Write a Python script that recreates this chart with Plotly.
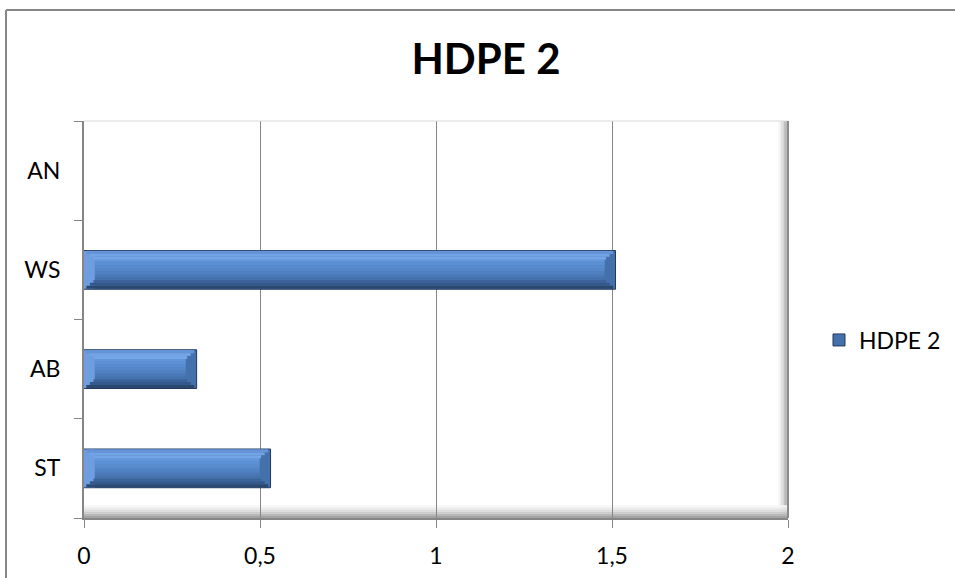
import plotly.graph_objects as go

# Data
categories = ["ST", "AB", "WS", "AN"]
values = [0.53, 0.32, 1.51, 0]
series_name = "HDPE 2"
x_ticks = [0, 0.5, 1, 1.5, 2]
x_tick_labels = ["0", "0,5", "1", "1,5", "2"]

W, H = 955, 578
FONT = "Lato"
GRID = "#868686"

fig = go.Figure()

bar_w = 0.39          # bar thickness in category units
bevel_x = 0.031       # horizontal depth of the bevel (x units)
bevel_y = 0.09        # vertical depth of the bevel (category units)
line_w = [1 if v else 0 for v in values]

# full bar in the right-end bevel colour (also provides the legend swatch)
fig.add_trace(go.Bar(
    y=categories, x=values, orientation="h", name=series_name, width=bar_w,
    marker=dict(color="#4471ac", line=dict(color="#22395a", width=line_w)),
    hoverinfo="x+y",
))

# left-end bevel, lighter
fig.add_trace(go.Bar(
    y=categories, x=[min(bevel_x, v) for v in values], orientation="h", width=bar_w - 0.01,
    marker=dict(color="#6e9edf", line=dict(width=0)),
    showlegend=False, hoverinfo="skip",
))

# horizontal bands (bottom to top): bevel faces near the edges, front face in between
band_cols = ["#2b4870", "#34588a", "#3b639a", "#4571ad", "#4b79b8", "#5081c2", "#5587c9",
             "#598ccf", "#5d91d5", "#6296da", "#74a5e6", "#72a3e4", "#6594d6"]
n = len(band_cols)
bh = (bar_w - 0.01) / n
for i, c in enumerate(band_cols):
    off = -(bar_w - 0.01) / 2 + i * bh
    centre = off + bh / 2
    edge_dist = min(centre + bar_w / 2, bar_w / 2 - centre)
    inset = bevel_x * min(edge_dist / bevel_y, 1.0)
    starts = [min(inset, v / 2) for v in values]
    lengths = [max(v - 2 * inset, 0) for v in values]
    fig.add_trace(go.Bar(
        y=categories, x=lengths, base=starts, orientation="h", width=bh * 1.05, offset=off,
        marker=dict(color=c, line=dict(width=0)),
        showlegend=False, hoverinfo="skip",
    ))

shapes = []
# right side wall: grey gradient strip
wall_cols = ["#f7f7f7", "#eeeeee", "#e2e2e2", "#d3d3d3", "#c2c2c2", "#b0b0b0", "#9c9c9c"]
n = len(wall_cols)
for i, c in enumerate(wall_cols):
    shapes.append(dict(type="rect", xref="x", yref="y domain",
                       x0=1.972 + i * 0.028 / n, x1=1.972 + (i + 1) * 0.028 / n,
                       y0=0, y1=1, fillcolor=c, line=dict(width=0), layer="below"))
# floor: grey gradient strip along the bottom
floor_cols = ["#f7f7f7", "#ececec", "#dedede", "#cccccc", "#b8b8b8", "#a4a4a4"]
n = len(floor_cols)
for i, c in enumerate(floor_cols):
    shapes.append(dict(type="rect", xref="x domain", yref="y domain",
                       x0=0, x1=1,
                       y0=0.032 - (i + 1) * 0.032 / n, y1=0.032 - i * 0.032 / n,
                       fillcolor=c, line=dict(width=0), layer="below"))
# back wall top edge
shapes.append(dict(type="line", xref="x domain", yref="y domain", x0=0, x1=1, y0=1, y1=1,
                   line=dict(color="#d9d9d9", width=1)))
# right wall edge
shapes.append(dict(type="line", xref="x domain", yref="y domain", x0=1, x1=1, y0=0, y1=1,
                   line=dict(color="#8c8c8c", width=2)))
# chart outer frame (left and top edges)
fx0 = (6 - 84) / 704
fy1 = (518 - 10) / 397
shapes.append(dict(type="line", xref="paper", yref="paper", x0=fx0, x1=fx0,
                   y0=(518 - 600) / 397, y1=fy1, line=dict(color="#878787", width=2)))
shapes.append(dict(type="line", xref="paper", yref="paper", x0=fx0, x1=(1000 - 84) / 704,
                   y0=fy1, y1=fy1, line=dict(color="#878787", width=2)))

fig.update_layout(
    width=W, height=H,
    margin=dict(l=84, r=167, t=121, b=60, autoexpand=False),
    paper_bgcolor="white", plot_bgcolor="white",
    barmode="overlay",
    separators=", ",
    font=dict(family=FONT, size=23, color="black"),
    title=dict(text="<b>HDPE 2</b>", x=486 / W, xanchor="center",
               y=1 - 59 / H, yanchor="middle",
               font=dict(family=FONT, size=42, color="black")),
    xaxis=dict(range=[0, 2], tickvals=x_ticks, ticktext=x_tick_labels,
               ticks="outside", ticklen=8, tickcolor=GRID,
               showgrid=True, gridcolor=GRID, gridwidth=1,
               showline=True, linecolor=GRID, linewidth=2,
               zeroline=False, ticklabelstandoff=8, automargin=False),
    yaxis=dict(type="category", categoryorder="array", categoryarray=categories,
               range=[-0.5, 3.5], tickson="boundaries",
               ticks="outside", ticklen=8, tickcolor=GRID,
               showgrid=False, showline=True, linecolor=GRID, linewidth=2,
               zeroline=False, ticklabelstandoff=17, automargin=False),
    legend=dict(xref="container", yref="container",
                x=819 / W, xanchor="left", y=1 - 340 / H, yanchor="middle",
                font=dict(family=FONT, size=23), bgcolor="rgba(0,0,0,0)"),
    shapes=shapes,
)

fig.write_html("out.html")
